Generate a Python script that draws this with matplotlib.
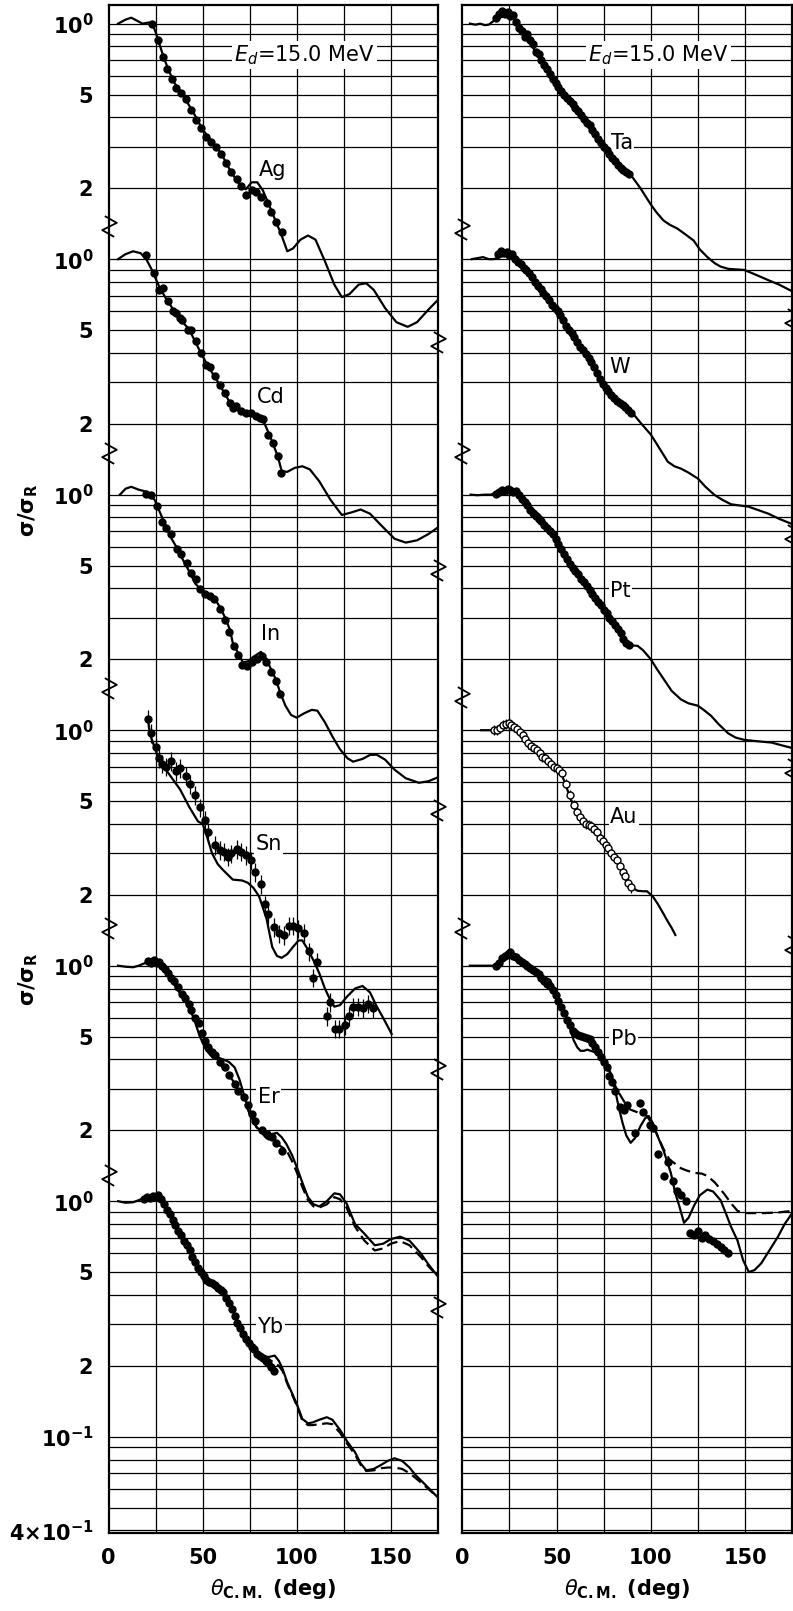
import matplotlib.pyplot as plt
import numpy as np
from matplotlib.path import Path

# sigma/sigma_R; each nucleus sits in its own decade
# (values below are in "own decade" units, 1.0 = the 10^0 line of that block)

# ---------------- left panel ----------------
ag_curve = np.array([
    (5, 1.0), (9, 1.04), (12, 1.06), (15, 1.03), (18, 1.0), (21, 1.01), (23, 1.01),
    (25, 0.92), (27, 0.82), (29, 0.73), (32, 0.63), (35, 0.56), (40, 0.49), (45, 0.42),
    (50, 0.355), (55, 0.315), (60, 0.28), (65, 0.235), (70, 0.205), (73, 0.198),
    (76, 0.212), (79, 0.212), (82, 0.196), (85, 0.172), (89, 0.144), (92, 0.126),
    (95, 0.108), (98, 0.111), (102, 0.121), (106, 0.126), (110, 0.121), (115, 0.098),
    (120, 0.078), (124, 0.069), (128, 0.071), (133, 0.078), (137, 0.079), (141, 0.074),
    (147, 0.062), (153, 0.054), (159, 0.0516), (164, 0.054), (170, 0.061), (175, 0.067)])
ag_data = np.array([
    (23, 1.0), (26.5, 0.855), (29, 0.72), (31, 0.64), (33.5, 0.58), (36, 0.535),
    (38.6, 0.51), (41, 0.48), (44, 0.43), (46.6, 0.39), (49.3, 0.36), (52, 0.33),
    (54.6, 0.315), (57, 0.30), (60, 0.28), (62.6, 0.256), (65, 0.235), (68, 0.218),
    (70.6, 0.205), (73, 0.188), (76, 0.196), (78.6, 0.192), (81, 0.183), (84, 0.174),
    (86.5, 0.158), (89, 0.144), (92, 0.13)])

cd_curve = np.array([
    (5, 1.0), (9, 1.05), (13, 1.08), (17, 1.06), (20, 1.0), (23, 0.9), (27, 0.76),
    (31, 0.67), (37, 0.57), (43, 0.50), (49, 0.40), (53, 0.35), (59, 0.293), (64, 0.25),
    (68, 0.229), (75, 0.222), (82, 0.208), (86, 0.176), (90, 0.145), (92, 0.126),
    (95, 0.125), (99, 0.13), (103, 0.132), (107, 0.128), (112, 0.114), (118, 0.095),
    (124, 0.082), (129, 0.084), (134, 0.0865), (139, 0.083), (145, 0.074), (152, 0.065),
    (158, 0.0626), (164, 0.064), (170, 0.068), (175, 0.0725)])
cd_data = np.array([
    (20, 1.045), (24, 0.873), (27, 0.74), (29, 0.755), (31.6, 0.662), (34.2, 0.60),
    (36, 0.59), (37.8, 0.563), (39.2, 0.553), (42.2, 0.50), (44, 0.50), (46.6, 0.448),
    (49.3, 0.40), (52, 0.356), (54, 0.35), (56.4, 0.318), (59, 0.293), (61.7, 0.27),
    (64.4, 0.245), (66, 0.233), (67.9, 0.237), (70.6, 0.226), (73.2, 0.222), (75.9, 0.222),
    (78.5, 0.215), (80.3, 0.212), (82.1, 0.209), (84.7, 0.18), (87.4, 0.166), (90, 0.146),
    (91.9, 0.124)])

in_curve = np.array([
    (6, 1.0), (9, 1.06), (12, 1.08), (16, 1.05), (20, 1.03), (24.5, 0.95), (29, 0.78),
    (33, 0.66), (36, 0.60), (40, 0.52), (43, 0.47), (46, 0.42), (48.5, 0.40), (51, 0.385),
    (54, 0.375), (57, 0.355), (59, 0.335), (62, 0.30), (64.5, 0.267), (66, 0.235),
    (68.8, 0.213), (71.4, 0.194), (74, 0.196), (77, 0.205), (81, 0.215), (84, 0.20),
    (86.5, 0.18), (89, 0.164), (91, 0.146), (94, 0.127), (97, 0.116), (100, 0.113),
    (104, 0.118), (108, 0.122), (111, 0.121), (115, 0.108), (119, 0.094), (123, 0.083),
    (127, 0.076), (130, 0.0735), (135, 0.0755), (139, 0.0785), (142.5, 0.0787),
    (147, 0.075), (152, 0.068), (158, 0.0625), (165, 0.0598), (170, 0.0607), (175, 0.063)])
in_data = np.array([
    (20, 1.01), (22.7, 1.0), (25.7, 0.895), (28.5, 0.765), (30.7, 0.724), (33.3, 0.678),
    (36.3, 0.586), (38.7, 0.558), (41.7, 0.514), (44, 0.466), (46.3, 0.44), (48.4, 0.396),
    (51, 0.377), (53.7, 0.37), (55.9, 0.36), (59, 0.326), (61.7, 0.295), (64, 0.261),
    (66.5, 0.228), (68.8, 0.208), (71.1, 0.19), (73.8, 0.188), (76.4, 0.195), (78.9, 0.2),
    (81.5, 0.206), (83.9, 0.195), (86.2, 0.177), (88.8, 0.162), (91, 0.142)])

sn_curve = np.array([
    (21, 1.1), (22, 0.96), (25.5, 0.80), (31, 0.67), (38, 0.56), (43, 0.47), (47.5, 0.41),
    (50, 0.40), (52, 0.36), (55, 0.30), (58, 0.27), (60.6, 0.256), (66, 0.232), (71, 0.23),
    (74, 0.225), (77, 0.214), (80, 0.197), (84, 0.158), (87, 0.12), (89.5, 0.11),
    (92, 0.108), (95, 0.112), (98, 0.12), (101, 0.128), (103, 0.128), (106, 0.117),
    (109, 0.105), (112, 0.093), (115, 0.08), (117.5, 0.0725), (120, 0.067), (123, 0.068),
    (126.5, 0.0735), (131, 0.08), (135, 0.082), (139, 0.077), (142.5, 0.0673),
    (146, 0.06), (150.5, 0.0513)])
sn_data = np.array([
    (21, 1.12), (22.5, 0.97), (25, 0.85), (27, 0.76), (28.5, 0.72), (30.5, 0.70),
    (33, 0.74), (35.6, 0.67), (38, 0.69), (41, 0.64), (43.5, 0.59), (46, 0.53),
    (48.4, 0.47), (51, 0.415), (52.7, 0.37), (56.4, 0.325), (59, 0.31), (61.6, 0.305),
    (63.5, 0.29), (65, 0.30), (68, 0.313), (70.5, 0.305), (73, 0.295), (75.5, 0.28),
    (78, 0.25), (81, 0.222), (83, 0.182), (85, 0.166), (87.8, 0.146), (90.4, 0.137),
    (93, 0.135), (95.7, 0.148), (98, 0.148), (100.7, 0.144), (103.7, 0.138), (106.4, 0.115),
    (108.5, 0.089), (111, 0.104), (116, 0.061), (117.5, 0.07), (120.2, 0.054),
    (122.7, 0.054), (125.5, 0.056), (127.7, 0.061), (130, 0.067), (132.5, 0.067),
    (135, 0.066), (137.8, 0.069), (140.5, 0.066)])

er_curve = np.array([
    (5, 1.0), (9, 0.99), (13, 0.985), (16, 1.0), (18.5, 1.02), (22, 1.04), (25.5, 1.04),
    (29, 0.97), (34.5, 0.84), (40.6, 0.71), (45, 0.607), (48.5, 0.50), (52, 0.437),
    (57, 0.41), (61, 0.40), (64, 0.39), (67, 0.37), (69.5, 0.33), (71.3, 0.295),
    (75, 0.235), (78.7, 0.206), (84, 0.19), (87, 0.193), (89.5, 0.195), (92, 0.187),
    (94.5, 0.175), (97.5, 0.157), (100, 0.14), (103, 0.12), (106, 0.104), (109, 0.097),
    (112, 0.095), (116, 0.1), (120, 0.108), (123, 0.107), (126.5, 0.098), (131, 0.08),
    (136, 0.0728), (141.5, 0.065), (146, 0.066), (150, 0.069), (155, 0.0707), (160, 0.068),
    (166, 0.06), (170, 0.054), (175, 0.048)])
er_dashed = np.array([
    (52, 0.437), (55, 0.41), (60, 0.375), (64, 0.34), (66, 0.326), (70, 0.29), (75, 0.235),
    (78.7, 0.206), (84, 0.185), (88, 0.178), (91, 0.172), (94.5, 0.165), (97.5, 0.148),
    (100, 0.133), (103, 0.115), (106, 0.101), (109, 0.095), (112, 0.094), (116, 0.097),
    (120, 0.104), (123, 0.102), (126.5, 0.094), (131, 0.078), (136, 0.068),
    (141.5, 0.0618), (146, 0.063), (150, 0.066), (155, 0.0677), (160, 0.065), (166, 0.058),
    (170, 0.053), (175, 0.048)])
er_data = np.array([
    (21, 1.05), (22.5, 1.03), (24, 1.06), (25.5, 1.03), (27, 1.04), (28.5, 1.0), (30, 0.97),
    (31.5, 0.93), (33, 0.89), (34.5, 0.86), (37, 0.81), (39, 0.76), (40.5, 0.73),
    (42.5, 0.69), (44, 0.65), (46, 0.60), (48, 0.57), (49.5, 0.52), (51, 0.48),
    (53, 0.45), (55, 0.43), (56.4, 0.417), (59, 0.39), (61.7, 0.37), (64, 0.345),
    (67, 0.316), (69, 0.295), (71.8, 0.278), (74, 0.255), (76, 0.235), (78, 0.22),
    (81.4, 0.2), (84, 0.192), (86.7, 0.187), (89, 0.176), (92, 0.164)])

yb_curve = np.array([
    (5, 1.0), (9, 0.985), (13, 0.99), (16, 1.01), (18.5, 1.03), (22, 1.03), (26, 1.04),
    (28, 1.02), (30, 0.94), (33, 0.85), (36, 0.76), (39, 0.70), (41.5, 0.65), (44, 0.59),
    (46.8, 0.535), (49.5, 0.50), (52, 0.467), (56.4, 0.445), (60.6, 0.42), (62.5, 0.40),
    (64.4, 0.37), (66, 0.345), (68, 0.316), (70.5, 0.285), (73, 0.257), (76, 0.24),
    (78.7, 0.229), (82, 0.22), (85, 0.218), (88.3, 0.221), (90.5, 0.21), (92.5, 0.194),
    (95, 0.17), (98, 0.15), (100, 0.138), (103, 0.119), (106, 0.114), (108.5, 0.115),
    (112, 0.118), (116, 0.121), (119, 0.118), (123, 0.107), (127, 0.095), (131, 0.086),
    (134, 0.077), (137, 0.072), (141, 0.073), (145, 0.076), (148.5, 0.079), (152, 0.081),
    (156, 0.079), (160, 0.074), (163, 0.069), (168, 0.063), (175, 0.0553)])
yb_dashed = np.array([
    (82, 0.22), (85, 0.214), (88.3, 0.205), (90.5, 0.2), (92.5, 0.19), (95, 0.168),
    (98, 0.148), (100, 0.136), (103, 0.117), (106, 0.112), (108.5, 0.112), (112, 0.113),
    (116, 0.114), (119, 0.113), (123, 0.104), (127, 0.093), (131, 0.084), (134, 0.076),
    (137, 0.0715), (141, 0.072), (145, 0.0735), (148.5, 0.074), (152, 0.074), (156, 0.073),
    (160, 0.07), (163, 0.067), (168, 0.062), (175, 0.0553)])
yb_data = np.array([
    (19, 1.02), (20.5, 1.04), (22, 1.03), (23.5, 1.05), (25, 1.04), (26.5, 1.06), (28, 1.02),
    (29.5, 0.97), (31, 0.92), (32.5, 0.88), (34, 0.83), (35.5, 0.79), (37, 0.75),
    (38.5, 0.72), (40, 0.68), (41.5, 0.65), (43, 0.62), (44.5, 0.58), (46, 0.55),
    (47.5, 0.52), (49, 0.50), (50.5, 0.48), (52, 0.465), (53.5, 0.455), (55, 0.45),
    (56.5, 0.44), (58, 0.43), (59.5, 0.42), (61, 0.41), (62.5, 0.39), (64, 0.37),
    (65.5, 0.35), (67, 0.325), (68.5, 0.305), (70, 0.29), (71.5, 0.272), (73, 0.26),
    (74.5, 0.25), (76, 0.24), (77.5, 0.235), (79, 0.225), (80.5, 0.22), (82, 0.215),
    (83.5, 0.21), (85, 0.205), (86.5, 0.198), (88, 0.19)])

# ---------------- right panel ----------------
ta_curve = np.array([
    (4, 1.0), (7, 0.99), (9.5, 1.0), (12, 0.985), (14, 0.99), (17.5, 1.04), (21, 1.07),
    (25.5, 1.08), (29.5, 0.99), (33, 0.90), (36, 0.82), (41.3, 0.72), (46.6, 0.59),
    (50, 0.54), (53.6, 0.505), (58, 0.46), (62.6, 0.415), (67.9, 0.363), (71, 0.33),
    (74.8, 0.30), (78.5, 0.275), (82.3, 0.255), (86, 0.24), (89, 0.23), (94.5, 0.2),
    (99.7, 0.172), (103, 0.158), (106.7, 0.146), (110, 0.14), (114, 0.135), (118, 0.128),
    (122.7, 0.12), (126, 0.11), (130, 0.102), (134, 0.096), (137, 0.093), (141, 0.091),
    (145, 0.0905), (149.5, 0.090), (154, 0.087), (158, 0.0843), (163, 0.081), (168, 0.078),
    (175, 0.073)])
ta_data = np.array([
    (18, 1.06), (19.5, 1.1), (21, 1.13), (22.5, 1.1), (24, 1.12), (25.5, 1.08), (27, 1.09),
    (28.5, 1.02), (30, 0.96), (31.5, 0.93), (33, 0.88), (34.5, 0.90), (36, 0.85),
    (37.5, 0.82), (39, 0.76), (40.5, 0.74), (42, 0.70), (43.5, 0.67), (45, 0.64),
    (46.5, 0.61), (48, 0.58), (49.5, 0.56), (51, 0.54), (52.5, 0.52), (54, 0.50),
    (55.5, 0.485), (57, 0.47), (58.5, 0.455), (60, 0.44), (61.5, 0.425), (63, 0.41),
    (64.5, 0.395), (66, 0.38), (67.5, 0.37), (69, 0.355), (70.5, 0.34), (72, 0.325),
    (73.5, 0.31), (75, 0.30), (76.5, 0.29), (78, 0.28), (79.5, 0.27), (81, 0.26),
    (82.5, 0.25), (84, 0.245), (85.5, 0.24), (87, 0.235), (88.5, 0.23)])

w_curve = np.array([
    (5, 1.0), (8, 1.01), (11, 1.02), (14, 1.0), (16.5, 1.0), (20, 1.02), (24, 1.05),
    (27, 1.04), (31, 0.95), (34, 0.89), (38, 0.82), (41.5, 0.76), (45, 0.695),
    (50.4, 0.60), (55.8, 0.507), (59, 0.46), (62.8, 0.417), (66, 0.385), (69.8, 0.356),
    (72.5, 0.32), (75, 0.293), (78, 0.272), (82.6, 0.248), (86, 0.235), (90.5, 0.221),
    (95, 0.2), (100, 0.18), (104, 0.16), (109, 0.138), (112.5, 0.132), (116, 0.129),
    (120, 0.124), (125, 0.117), (129, 0.108), (133.6, 0.10), (138, 0.095), (142.6, 0.091),
    (147, 0.09), (151.7, 0.089), (157, 0.086), (162.4, 0.083), (168, 0.079), (175, 0.075)])
w_data = np.array([
    (19, 1.05), (20.5, 1.08), (22, 1.06), (23.5, 1.07), (25, 1.04), (26.5, 1.05), (28, 1.0),
    (29.5, 0.97), (31, 0.95), (32.5, 0.92), (34, 0.90), (35.5, 0.87), (37, 0.84),
    (38.5, 0.80), (40, 0.77), (41.5, 0.75), (43, 0.72), (44.5, 0.70), (46, 0.67),
    (47.5, 0.64), (49, 0.62), (50.5, 0.60), (52, 0.58), (53.5, 0.55), (55, 0.52),
    (56.5, 0.50), (58, 0.485), (59.5, 0.465), (61, 0.445), (62.5, 0.425), (64, 0.41),
    (65.5, 0.395), (67, 0.38), (68.5, 0.365), (70, 0.35), (71.5, 0.33), (73, 0.31),
    (74.5, 0.295), (76, 0.285), (77.5, 0.275), (79, 0.265), (80.5, 0.258), (82, 0.25),
    (83.5, 0.245), (85, 0.24), (86.5, 0.235), (88, 0.228), (89.5, 0.222)])

pt_curve = np.array([
    (4.4, 1.0), (8, 0.995), (12, 1.0), (15, 1.0), (18, 1.02), (22, 1.04), (26, 1.03),
    (30, 1.0), (34.4, 0.925), (38, 0.86), (41.3, 0.815), (44, 0.76), (48.3, 0.69),
    (51, 0.63), (53.6, 0.578), (55.8, 0.53), (60, 0.47), (64.4, 0.423), (69, 0.38),
    (73.4, 0.339), (77, 0.31), (80.3, 0.286), (84, 0.255), (87.7, 0.23), (93, 0.228),
    (96, 0.218), (100, 0.2), (103, 0.183), (107, 0.164), (111, 0.147), (116, 0.135),
    (120, 0.13), (125, 0.127), (128, 0.122), (132, 0.115), (136, 0.106), (141, 0.097),
    (145, 0.093), (149.5, 0.091), (155, 0.09), (160, 0.0892), (164, 0.0886), (170, 0.086),
    (175, 0.084)])
pt_data = np.array([
    (18, 1.01), (19.5, 1.03), (21, 1.05), (22.5, 1.04), (24, 1.06), (25.5, 1.05), (27, 1.03),
    (28.5, 1.04), (30, 1.0), (31.5, 0.96), (33, 0.93), (34.5, 0.90), (36, 0.86),
    (37.5, 0.84), (39, 0.81), (40.5, 0.79), (42, 0.77), (43.5, 0.74), (45, 0.72),
    (46.5, 0.70), (48, 0.68), (49.5, 0.65), (51, 0.62), (52.5, 0.59), (54, 0.56),
    (55.5, 0.535), (57, 0.51), (58.5, 0.49), (60, 0.475), (61.5, 0.46), (63, 0.44),
    (64.5, 0.425), (66, 0.41), (67.5, 0.395), (69, 0.38), (70.5, 0.365), (72, 0.35),
    (73.5, 0.34), (75, 0.325), (76.5, 0.315), (78, 0.30), (79.5, 0.29), (81, 0.28),
    (82.5, 0.27), (84, 0.258), (85.5, 0.245), (87, 0.235), (88.5, 0.23)])

au_curve = np.array([
    (10, 1.0), (14, 1.0), (18, 1.0), (21, 1.04), (25.5, 1.06), (29, 1.04), (33, 0.95),
    (37.7, 0.855), (42, 0.79), (46.8, 0.724), (50, 0.69), (53, 0.64), (55, 0.58),
    (57.5, 0.51), (61, 0.444), (63.5, 0.42), (66.3, 0.403), (71.6, 0.376), (74, 0.35),
    (76.9, 0.32), (82.2, 0.28), (87.6, 0.23), (90.3, 0.214), (93, 0.208), (96, 0.207),
    (98, 0.207), (101, 0.197), (103.5, 0.184), (106, 0.17), (108.8, 0.155), (111, 0.145),
    (113, 0.135)])
au_data = np.array([
    (17, 1.0), (18.5, 1.0), (20, 1.02), (21.5, 1.05), (23, 1.06), (24.5, 1.07), (26, 1.05),
    (27.5, 1.03), (29, 1.01), (30.5, 0.98), (32, 0.95), (33.5, 0.92), (35, 0.88),
    (36.5, 0.86), (38, 0.84), (39.5, 0.82), (41, 0.80), (42.5, 0.77), (44, 0.76),
    (45.5, 0.74), (47, 0.72), (48.5, 0.70), (50, 0.69), (51.5, 0.68), (53, 0.66),
    (55, 0.59), (57, 0.53), (59, 0.48), (61, 0.45), (62.5, 0.43), (64, 0.41), (65.5, 0.40),
    (67, 0.395), (68.5, 0.39), (70, 0.38), (71.5, 0.37), (73, 0.35), (74.5, 0.34),
    (76, 0.325), (77.5, 0.315), (79, 0.30), (80.5, 0.29), (82, 0.28), (83.5, 0.265),
    (85, 0.25), (86.5, 0.24), (88, 0.225), (89.5, 0.215)])

pb_curve = np.array([
    (4, 1.0), (10, 1.0), (14, 1.0), (18, 1.0), (21, 1.06), (25.5, 1.12), (28, 1.1),
    (31, 1.06), (36, 1.0), (40, 0.95), (43, 0.9), (46.6, 0.87), (48.5, 0.80), (50.4, 0.74),
    (53, 0.66), (55.7, 0.59), (57.5, 0.53), (59, 0.484), (61, 0.45), (62.7, 0.435),
    (64.5, 0.435), (66.3, 0.44), (70, 0.43), (73.4, 0.412), (76, 0.38), (78.7, 0.35),
    (80, 0.32), (81.4, 0.288), (83, 0.25), (85, 0.215), (87, 0.19), (89.3, 0.177),
    (91.5, 0.185), (94.6, 0.209), (97, 0.225), (98.9, 0.23), (101, 0.215), (103.5, 0.19),
    (107, 0.162), (110.6, 0.132), (113, 0.108), (115, 0.096), (117.6, 0.081), (120, 0.085),
    (123, 0.096), (126, 0.106), (130, 0.112), (133, 0.11), (137, 0.101), (140, 0.088),
    (142.5, 0.078), (146, 0.068), (149, 0.056), (152, 0.05), (155, 0.051), (158.5, 0.0544),
    (163, 0.062), (167.5, 0.0708), (171, 0.08), (175, 0.089)])
pb_dashed = np.array([
    (50.4, 0.74), (53, 0.66), (55.7, 0.59), (58, 0.55), (61, 0.52), (64.5, 0.49),
    (68, 0.47), (70.5, 0.445), (73.4, 0.412), (76, 0.38), (78.7, 0.35), (81, 0.31),
    (84, 0.28), (86.5, 0.26), (89, 0.245), (92, 0.24), (95, 0.235), (98, 0.23),
    (101, 0.21), (103.5, 0.19), (107, 0.165), (110, 0.15), (112.5, 0.145), (116, 0.138),
    (119, 0.135), (123, 0.132), (127, 0.131), (130, 0.128), (134, 0.12), (138.7, 0.108),
    (143, 0.097), (146, 0.091), (149.5, 0.089), (155, 0.089), (160, 0.089), (167, 0.0895),
    (175, 0.091)])
pb_data = np.array([
    (18, 1.0), (19.5, 1.03), (21, 1.08), (22.5, 1.1), (24, 1.12), (25.5, 1.14), (27, 1.1),
    (28.5, 1.09), (30, 1.06), (31.5, 1.04), (33, 1.02), (34.5, 1.0), (36, 0.98),
    (37.5, 0.96), (39, 0.94), (40.5, 0.92), (42, 0.89), (43.5, 0.86), (45, 0.84),
    (46.5, 0.82), (48, 0.79), (49.5, 0.75), (51, 0.71), (52.5, 0.67), (54, 0.63),
    (55.5, 0.59), (57, 0.56), (58.5, 0.53), (60, 0.52), (61.5, 0.51), (63, 0.505),
    (64.5, 0.50), (66, 0.495), (67.5, 0.49), (69, 0.47), (70.5, 0.45), (72, 0.43),
    (73.5, 0.41), (75, 0.39), (76.5, 0.37), (78, 0.34), (79.5, 0.32), (81, 0.295),
    (83.8, 0.25), (86, 0.245), (87.5, 0.255), (91.8, 0.195), (94.5, 0.26), (96, 0.24),
    (99.8, 0.21), (101, 0.205), (104, 0.158), (107, 0.128), (109, 0.146), (111.6, 0.122),
    (114, 0.11), (116, 0.106), (118.4, 0.10), (121, 0.073), (123, 0.072), (125, 0.075),
    (127, 0.070), (129, 0.072), (131, 0.069), (133, 0.068), (135, 0.066), (137, 0.064),
    (139, 0.062), (141, 0.060)])

left_names = ['Ag', 'Cd', 'In', 'Sn', 'Er', 'Yb']
right_names = ['Ta', 'W', 'Pt', 'Au', 'Pb']

# axis-break marks (absolute sigma/sigma_R position on the log scale)
breaks_left_l = [0.138, 0.0151, 1.51e-3, 1.445e-4, 1.29e-5]
breaks_left_r = [0.0447, 4.79e-3, 4.57e-4, 3.63e-5, 3.55e-6]
breaks_right_l = [0.1337, 0.0151, 1.38e-3, 1.445e-4]
breaks_right_r = [0.0555, 6.76e-3, 6.84e-4, 1.216e-4]

ytick_vals = [1, 0.5, 0.2, 0.1, 0.05, 0.02, 1e-2, 5e-3, 2e-3, 1e-3, 5e-4, 2e-4,
              1e-4, 5e-5, 2e-5, 1e-5, 5e-6, 2e-6, 1e-6, 4e-7]
ytick_text = [r'$\mathbf{10^0}$', '5', '2'] * 6 + [r'$\mathbf{10^{-1}}$',
                                                    r'$\mathbf{4{\times}10^{-1}}$']

YLO, YHI = 3.9e-7, 1.2

fig = plt.figure(figsize=(7.93, 16.11), dpi=100)
ax_l = fig.add_axes([0.137, 0.0484, 0.415, 0.9485])
ax_r = fig.add_axes([0.583, 0.0484, 0.416, 0.9485])

zig = Path([(-0.45, 1.0), (0.7, 0.35), (-0.7, -0.35), (0.45, -1.0)])


def setup(ax):
    ax.set_yscale('log')
    ax.set_xlim(0, 175)
    ax.set_ylim(YLO, YHI)
    # log-paper grid
    for e in range(-7, 1):
        for m in range(1, 10):
            v = m * 10.0 ** e
            if YLO < v < YHI:
                ax.axhline(v, color='k', lw=0.9, zorder=1)
    for x in range(25, 175, 25):
        ax.axvline(x, color='k', lw=0.9, zorder=1)
    ax.set_xticks([0, 50, 100, 150])
    ax.set_xticklabels(['0', '50', '100', '150'], fontsize=15, fontweight='bold')
    ax.yaxis.set_minor_locator(plt.NullLocator())
    ax.tick_params(length=0, pad=11)
    for s in ax.spines.values():
        s.set_linewidth(1.6)
    ax.set_xlabel(r'$\theta_{\mathbf{C.M.}}$ (deg)', fontsize=15, fontweight='bold', labelpad=6)
    ax.text(104, 0.735, r'$E_d$=15.0 MeV', fontsize=15, ha='center', va='center',
            bbox=dict(fc='white', ec='none', pad=1.5), zorder=3)


def breaks(ax, vals, side):
    ax.plot([side] * len(vals), vals, transform=ax.get_yaxis_transform(), ls='none',
            marker=zig, ms=15, mfc='none', mec='k', mew=1.3, clip_on=False, zorder=6)


def draw(ax, k, curve, data, err, dashed=None, hollow=False):
    s = 10.0 ** -k
    ax.plot(curve[:, 0], curve[:, 1] * s, color='k', lw=1.6, zorder=4)
    if dashed is not None:
        ax.plot(dashed[:, 0], dashed[:, 1] * s, color='k', lw=1.6, ls=(0, (5, 2.5)), zorder=4)
    y = data[:, 1] * s
    ax.errorbar(data[:, 0], y, yerr=[y * err, y * err], fmt='o', ms=5, color='k',
                mfc='white' if hollow else 'k', mew=1.0, elinewidth=0.9, capsize=0, zorder=5)


def label(ax, k, x, y, name):
    ax.text(x, y * 10.0 ** -k, name, fontsize=15, ha='center', va='center',
            bbox=dict(fc='white', ec='none', pad=1.0), zorder=3)


setup(ax_l)
setup(ax_r)
ax_l.set_yticks(ytick_vals)
ax_l.set_yticklabels(ytick_text, fontsize=15, fontweight='bold')
ax_r.set_yticks([])

draw(ax_l, 0, ag_curve, ag_data, 0.02)
draw(ax_l, 1, cd_curve, cd_data, 0.02)
draw(ax_l, 2, in_curve, in_data, 0.025)
draw(ax_l, 3, sn_curve, sn_data, 0.09)
draw(ax_l, 4, er_curve, er_data, 0.02, dashed=er_dashed)
draw(ax_l, 5, yb_curve, yb_data, 0.02, dashed=yb_dashed)

draw(ax_r, 0, ta_curve, ta_data, 0.025)
draw(ax_r, 1, w_curve, w_data, 0.025)
draw(ax_r, 2, pt_curve, pt_data, 0.025)
draw(ax_r, 3, au_curve, au_data, 0.05, hollow=True)
draw(ax_r, 4, pb_curve, pb_data, 0.03, dashed=pb_dashed)

for k, (nm, x, y) in enumerate(zip(left_names, [87, 86, 86, 85, 85, 86],
                                   [0.24, 0.26, 0.255, 0.33, 0.278, 0.292])):
    label(ax_l, k, x, y, nm)
for k, (nm, x, y) in enumerate(zip(right_names, [84.5, 83.5, 84, 85.6, 85.6],
                                   [0.31, 0.347, 0.39, 0.43, 0.49])):
    label(ax_r, k, x, y, nm)

breaks(ax_l, breaks_left_l, 0)
breaks(ax_l, breaks_left_r, 1)
breaks(ax_r, breaks_right_l, 0)
breaks(ax_r, breaks_right_r, 1)

fig.text(0.035, 0.683, r'$\mathbf{\sigma/\sigma_R}$', rotation=90, fontsize=15,
         ha='center', va='center')
fig.text(0.035, 0.392, r'$\mathbf{\sigma/\sigma_R}$', rotation=90, fontsize=15,
         ha='center', va='center')

fig.savefig('out.png', dpi=100)
